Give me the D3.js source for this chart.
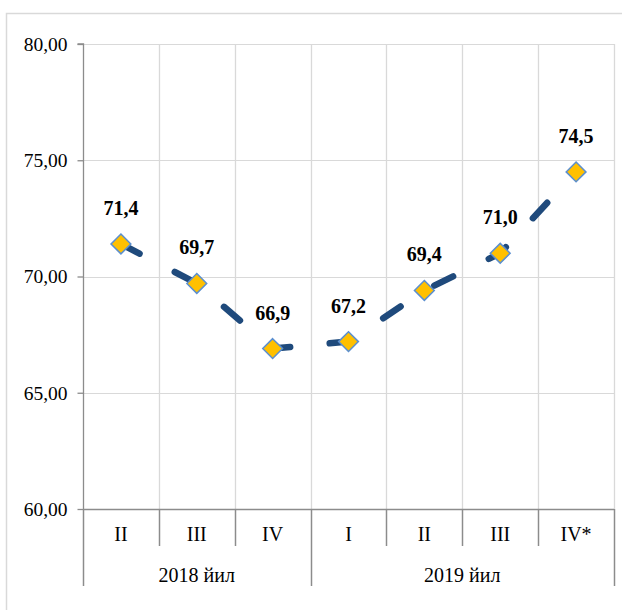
<!DOCTYPE html>
<html>
<head>
<meta charset="utf-8">
<script src="https://cdn.jsdelivr.net/npm/d3@7"></script>
<style>
  html, body { margin: 0; padding: 0; background: #fff; }
  svg { display: block; }
</style>
</head>
<body>
<svg id="chart" width="622" height="610"></svg>
<script>
const quarters = ["II", "III", "IV", "I", "II", "III", "IV*"];
const values = [71.4, 69.7, 66.9, 67.2, 69.4, 71.0, 74.5];
const valueLabels = ["71,4", "69,7", "66,9", "67,2", "69,4", "71,0", "74,5"];
const years = ["2018 йил", "2019 йил"];
const yearSpans = [3, 4];
const yTicks = [60, 65, 70, 75, 80];

const svg = d3.select("#chart");
const plotL = 83, plotR = 614, plotT = 44, plotB = 509;
const serif = "'Liberation Serif', 'Times New Roman', serif";

// outer frame
svg.append("rect").attr("x", 6.5).attr("y", 13.5).attr("width", 622).attr("height", 610)
  .attr("fill", "none").attr("stroke", "#d9d9d9").attr("stroke-width", 1.5);

const idx = d3.range(quarters.length);
const x = d3.scaleBand().domain(idx).range([plotL, plotR]).padding(0);
const y = d3.scaleLinear().domain([60, 80]).range([plotB, plotT]);

// horizontal grid
svg.append("g").selectAll("line").data(yTicks.filter(t => t > 60)).join("line")
  .attr("x1", plotL).attr("x2", plotR)
  .attr("y1", d => Math.round(y(d)) + 0.5).attr("y2", d => Math.round(y(d)) + 0.5)
  .attr("stroke", "#d9d9d9").attr("stroke-width", 1);

// vertical grid at category boundaries
const bounds = idx.map(i => x(i)).concat([plotR]);
svg.append("g").selectAll("line").data(bounds.slice(1)).join("line")
  .attr("x1", d => Math.round(d) + 0.5).attr("x2", d => Math.round(d) + 0.5)
  .attr("y1", plotT).attr("y2", plotB)
  .attr("stroke", "#d9d9d9").attr("stroke-width", 1.3);

// y axis
const yAxis = d3.axisLeft(y).tickValues(yTicks).tickSize(6).tickPadding(10)
  .tickFormat(d => d3.format(".2f")(d).replace(".", ","));
const gy = svg.append("g").attr("transform", `translate(${plotL + 0.5},0)`).call(yAxis);
gy.select(".domain").attr("stroke", "#8c8c8c").attr("stroke-width", 1.3).attr("d", `M-6,${plotT}H0V${plotB}`);
gy.selectAll(".tick line").attr("stroke", "#8c8c8c").attr("stroke-width", 1.3);
gy.selectAll(".tick text").attr("font-family", serif)
  .attr("font-size", 19.5).attr("fill", "#000");

// x axis line
svg.append("line").attr("x1", plotL).attr("x2", plotR)
  .attr("y1", plotB + 0.5).attr("y2", plotB + 0.5)
  .attr("stroke", "#8c8c8c").attr("stroke-width", 1.5);

// separators below axis
let groupEdges = [0];
yearSpans.reduce((acc, s) => { acc += s; groupEdges.push(acc); return acc; }, 0);
svg.append("g").selectAll("line").data(d3.range(quarters.length + 1)).join("line")
  .attr("x1", i => Math.round(i < quarters.length ? x(i) : plotR) + 0.5)
  .attr("x2", i => Math.round(i < quarters.length ? x(i) : plotR) + 0.5)
  .attr("y1", plotB)
  .attr("y2", i => groupEdges.includes(i) ? 586 : 546)
  .attr("stroke", "#8c8c8c").attr("stroke-width", 1.5);

// quarter labels
svg.append("g").selectAll("text").data(idx).join("text")
  .attr("x", i => x(i) + x.bandwidth() / 2).attr("y", 541)
  .attr("text-anchor", "middle")
  .attr("font-family", serif)
  .attr("font-size", 20).attr("fill", "#000")
  .text(i => quarters[i]);

// year labels
svg.append("g").selectAll("text").data(years).join("text")
  .attr("x", (d, k) => {
    const a = groupEdges[k], b = groupEdges[k + 1];
    const x0 = x(a), x1 = b < quarters.length ? x(b) : plotR;
    return (x0 + x1) / 2;
  })
  .attr("y", 582)
  .attr("text-anchor", "middle")
  .attr("font-family", serif)
  .attr("font-size", 20).attr("fill", "#000")
  .text(d => d);

// line
const pts = idx.map(i => [x(i) + x.bandwidth() / 2, y(values[i])]);
svg.append("path").datum(pts)
  .attr("d", d3.line())
  .attr("fill", "none").attr("stroke", "#1f4a7c").attr("stroke-width", 6.5)
  .attr("stroke-linecap", "round").attr("stroke-linejoin", "round")
  .attr("stroke-dasharray", "21,39.7");

// markers
const sym = d3.symbol().type(d3.symbolDiamond2).size(250);
svg.append("g").selectAll("path").data(pts).join("path")
  .attr("transform", d => `translate(${d[0]},${d[1]})`)
  .attr("d", sym)
  .attr("fill", "#ffc000").attr("stroke", "#5b8fd0").attr("stroke-width", 1.5);

// value labels
svg.append("g").selectAll("text").data(idx).join("text")
  .attr("x", i => pts[i][0]).attr("y", i => pts[i][1] - 29)
  .attr("text-anchor", "middle")
  .attr("font-family", serif)
  .attr("font-weight", "bold").attr("font-size", 20).attr("fill", "#000")
  .text(i => valueLabels[i]);
</script>
</body>
</html>
